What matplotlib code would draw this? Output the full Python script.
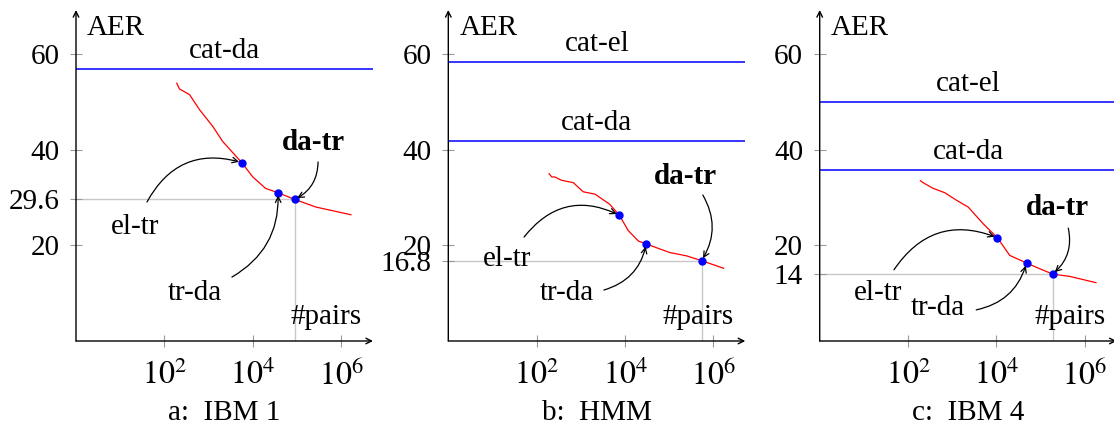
import matplotlib
matplotlib.use("Agg")
import matplotlib.pyplot as plt
import numpy as np

plt.rcParams['font.family'] = ['Liberation Serif', 'DejaVu Serif']
plt.rcParams['mathtext.fontset'] = 'stix'
FS = 21

# log10(#pairs) and AER
curve_a_x = [2.28, 2.34, 2.40, 2.57, 2.80, 3.10, 3.32, 3.75, 4.00, 4.29, 4.57, 4.95, 5.43, 6.22]
curve_a_y = [53.9, 52.7, 52.4, 51.5, 48.3, 44.8, 41.7, 37.3, 34.3, 31.9, 31.0, 29.6, 28.0, 26.4]
curve_b_x = [2.28, 2.34, 2.41, 2.56, 2.83, 3.05, 3.32, 3.65, 3.87, 4.07, 4.30, 4.48, 4.71, 5.01, 5.39, 5.73, 6.23]
curve_b_y = [35.0, 34.3, 34.3, 33.6, 33.1, 31.2, 30.7, 28.6, 26.3, 23.1, 20.9, 20.3, 19.5, 18.5, 17.8, 16.8, 15.2]
curve_c_x = [2.28, 2.34, 2.57, 2.83, 3.10, 3.36, 3.70, 4.02, 4.30, 4.68, 4.98, 5.27, 5.66, 6.25]
curve_c_y = [33.5, 33.1, 31.9, 31.0, 29.4, 28.0, 24.5, 21.6, 17.9, 16.3, 15.1, 14.0, 13.5, 12.2]

# marked points: el-tr, tr-da, da-tr (log10 #pairs, AER)
marks_a_x = [3.75, 4.57, 4.95]
marks_a_y = [37.3, 31.0, 29.6]
marks_b_x = [3.87, 4.48, 5.73]
marks_b_y = [26.3, 20.3, 16.8]
marks_c_x = [4.02, 4.68, 5.27]
marks_c_y = [21.6, 16.3, 14.0]

# concatenation baselines
cat_a = {'cat-da': 56.9}
cat_b = {'cat-el': 58.3, 'cat-da': 41.8}
cat_c = {'cat-el': 50.0, 'cat-da': 35.7}

titles = ['a:  IBM 1', 'b:  HMM', 'c:  IBM 4']
extra_ticks = [29.6, 16.8, 14]
extra_labels = ['29.6', '16.8', '14']

# layout (axes fractions) of the annotation texts and arrow starts
lay_a = dict(eltr=(0.199, 0.344), trda=(0.40, 0.145), datr=(0.798, 0.601),
             s_eltr=(0.239, 0.420), s_trda=(0.525, 0.193), s_datr=(0.815, 0.541))
lay_b = dict(eltr=(0.197, 0.248), trda=(0.40, 0.145), datr=(0.797, 0.498),
             s_eltr=(0.255, 0.314), s_trda=(0.524, 0.154), s_datr=(0.857, 0.441))
lay_c = dict(eltr=(0.196, 0.145), trda=(0.398, 0.100), datr=(0.799, 0.402),
             s_eltr=(0.250, 0.215), s_trda=(0.527, 0.094), s_datr=(0.837, 0.341))

W, H = 1114, 428
fig = plt.figure(figsize=(W / 100, H / 100), dpi=100)

lefts = [76, 448.3, 819.7]
ax_w, ax_h, ax_bottom = 297, 331, 428 - 341

panels = [
    (curve_a_x, curve_a_y, marks_a_x, marks_a_y, cat_a, lay_a),
    (curve_b_x, curve_b_y, marks_b_x, marks_b_y, cat_b, lay_b),
    (curve_c_x, curve_c_y, marks_c_x, marks_c_y, cat_c, lay_c),
]

for i, (cx, cy, mx, my, cats, lay) in enumerate(panels):
    ax = fig.add_axes([lefts[i] / W, ax_bottom / H, ax_w / W, ax_h / H])
    ax.set_xscale('log')
    ax.set_xlim(1, 10 ** 6.72)
    ax.set_ylim(0, 69.2)
    for s in ax.spines.values():
        s.set_visible(False)
    ax.patch.set_alpha(0)

    # axis arrows
    ax.annotate('', xy=(1.0, 0), xytext=(0, 0), xycoords='axes fraction',
                arrowprops=dict(arrowstyle='->', color='black', lw=1.0,
                                shrinkA=0, shrinkB=0), annotation_clip=False)
    ax.annotate('', xy=(0, 1.0), xytext=(0, 0), xycoords='axes fraction',
                arrowprops=dict(arrowstyle='->', color='black', lw=1.0,
                                shrinkA=0, shrinkB=0), annotation_clip=False)

    ax.set_xticks([1e2, 1e4, 1e6])
    ax.set_xticklabels(['$10^{2}$', '$10^{4}$', '$10^{6}$'])
    ax.xaxis.set_minor_locator(matplotlib.ticker.NullLocator())
    yt = [60, 40, 20, extra_ticks[i]]
    ax.set_yticks(yt)
    ax.set_yticklabels(['60', '40', '20', extra_labels[i]])
    ax.tick_params(axis='both', direction='inout', length=8, width=0.8,
                   color='#999999', labelsize=FS, labelcolor='black')
    ax.tick_params(axis='y', pad=8)
    ax.tick_params(axis='x', pad=10, labelsize=23)

    # guide lines to the da-tr point
    px, py = 10 ** mx[2], my[2]
    ax.plot([1, px], [py, py], color='#c8c8c8', lw=1.0, zorder=1)
    ax.plot([px, px], [0, py], color='#c8c8c8', lw=1.0, zorder=1)

    # baselines
    for name, val in cats.items():
        ax.axhline(val, color='blue', lw=1.1)
        ax.annotate(name, xy=(0.5, val), xycoords=('axes fraction', 'data'),
                    xytext=(0, 13), textcoords='offset points',
                    ha='center', va='center', fontsize=FS)

    ax.plot(10 ** np.array(cx), cy, color='red', lw=0.9, zorder=2)
    ax.plot(10 ** np.array(mx), my, 'o', color='blue', ms=5, zorder=3)

    ax.text(0.037, 0.946, 'AER', transform=ax.transAxes, fontsize=FS,
            ha='left', va='center')
    ax.text(0.842, 0.073, '#pairs', transform=ax.transAxes, fontsize=FS,
            ha='center', va='center')
    ax.text(*lay['eltr'], 'el-tr', transform=ax.transAxes, fontsize=FS,
            ha='center', va='center')
    ax.text(*lay['trda'], 'tr-da', transform=ax.transAxes, fontsize=FS,
            ha='center', va='center')
    ax.text(*lay['datr'], 'da-tr', transform=ax.transAxes, fontsize=FS,
            ha='center', va='center', fontweight='bold')

    rads = [-0.4, 0.3, -0.3]
    for k, key in enumerate(['s_eltr', 's_trda', 's_datr']):
        ax.annotate('', xy=(10 ** mx[k], my[k]), xycoords='data',
                    xytext=lay[key], textcoords='axes fraction',
                    arrowprops=dict(arrowstyle='->', color='black', lw=0.9,
                                    shrinkA=0, shrinkB=2,
                                    connectionstyle='arc3,rad=%.2f' % rads[k]))

    ax.text(0.5, -0.218, titles[i], transform=ax.transAxes, fontsize=FS,
            ha='center', va='center')

fig.savefig('out.png', dpi=100)
